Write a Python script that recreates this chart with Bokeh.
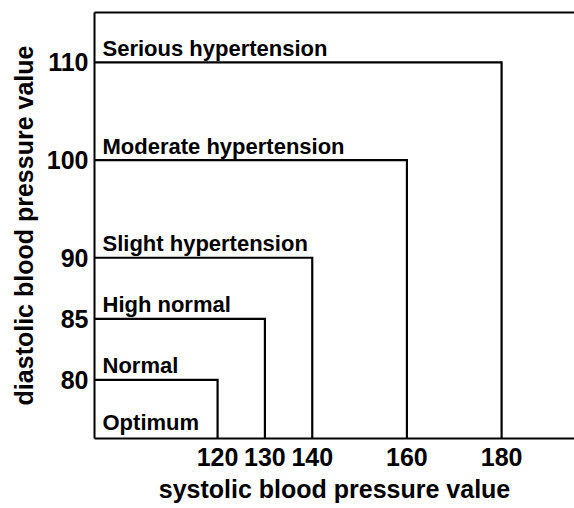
import numpy as np
from bokeh.plotting import figure
from bokeh.models import Range1d, FixedTicker, LinearAxis, CustomJSTickFormatter
from bokeh.core.properties import value
from bokeh.embed import file_html
from bokeh.resources import INLINE

# ---- data -------------------------------------------------------------
categories = ["Normal", "High normal", "Slight hypertension",
              "Moderate hypertension", "Serious hypertension"]
systolic = [120, 130, 140, 160, 180]
diastolic = [80, 85, 90, 100, 110]
base_label = "Optimum"
x_ticks = [120, 130, 140, 160, 180]
y_ticks = [80, 85, 90, 100, 110]

x_limits = (94.0, 195.4)
y_limits = (75.2, 115.1)

# diastolic axis is drawn compressed above 90 (scale break)
BREAK, FACTOR = 90.0, 0.8


def ymap(v):
    v = np.asarray(v, dtype=float)
    return np.where(v <= BREAK, v, BREAK + (v - BREAK) * FACTOR)


FONT = "Liberation Sans"

p = figure(width=574, height=508, output_backend="svg", toolbar_location=None,
           x_range=Range1d(*x_limits),
           y_range=Range1d(float(ymap(y_limits[0])), float(ymap(y_limits[1]))),
           min_border_left=94, min_border_top=12, min_border_right=0,
           min_border_bottom=70)
p.outline_line_color = None
p.xgrid.visible = False
p.ygrid.visible = False
p.background_fill_color = "white"
p.border_fill_color = "white"

x_lo = x_limits[0]
y_lo = y_limits[0]

xs, ys = [], []
for s, d in zip(systolic, diastolic):
    xs.append([x_lo, s, s])
    ys.append([float(ymap(d)), float(ymap(d)), float(ymap(y_lo))])
p.multi_line(xs=xs, ys=ys, line_color="black", line_width=2.2, line_join="miter")

p.text(x=[x_lo] * len(categories), y=list(ymap(diastolic)), text=categories,
       x_offset=8, y_offset=-14, text_baseline="alphabetic", text_align="left",
       text_font=value(FONT), text_font_style="bold", text_font_size="22px",
       text_color="black")
p.text(x=[x_lo], y=[float(ymap(y_lo))], text=[base_label],
       x_offset=8, y_offset=-16, text_baseline="alphabetic", text_align="left",
       text_font=value(FONT), text_font_style="bold", text_font_size="22px",
       text_color="black")

# axes
for ax in (p.xaxis[0], p.yaxis[0]):
    ax.axis_line_width = 2
    ax.axis_line_color = "black"
    ax.major_tick_out = 0
    ax.major_tick_in = 0
    ax.minor_tick_out = 0
    ax.minor_tick_in = 0
    ax.major_label_text_font = FONT
    ax.major_label_text_font_style = "bold"
    ax.major_label_text_font_size = "25px"
    ax.major_label_text_color = "black"
    ax.axis_label_text_font = FONT
    ax.axis_label_text_font_style = "bold"
    ax.axis_label_text_font_size = "25px"
    ax.axis_label_text_color = "black"

p.xaxis.ticker = FixedTicker(ticks=x_ticks)
p.xaxis.axis_label = "systolic blood pressure value"
p.xaxis.major_label_standoff = 9
p.xaxis.axis_label_standoff = 6

p.yaxis.ticker = FixedTicker(ticks=[float(t) for t in ymap(y_ticks)])
p.yaxis.formatter = CustomJSTickFormatter(
    args=dict(b=BREAK, f=FACTOR),
    code="return String(Math.round(tick <= b ? tick : b + (tick - b) / f));")
p.yaxis.axis_label = "diastolic blood pressure value"
p.yaxis.major_label_standoff = 6
p.yaxis.axis_label_standoff = 6

top = LinearAxis(ticker=FixedTicker(ticks=[]), axis_line_width=2,
                 axis_line_color="black", major_tick_out=0, minor_tick_out=0,
                 major_label_text_font_size="0px")
p.add_layout(top, "above")

open("out.html", "w").write(file_html(p, INLINE))
